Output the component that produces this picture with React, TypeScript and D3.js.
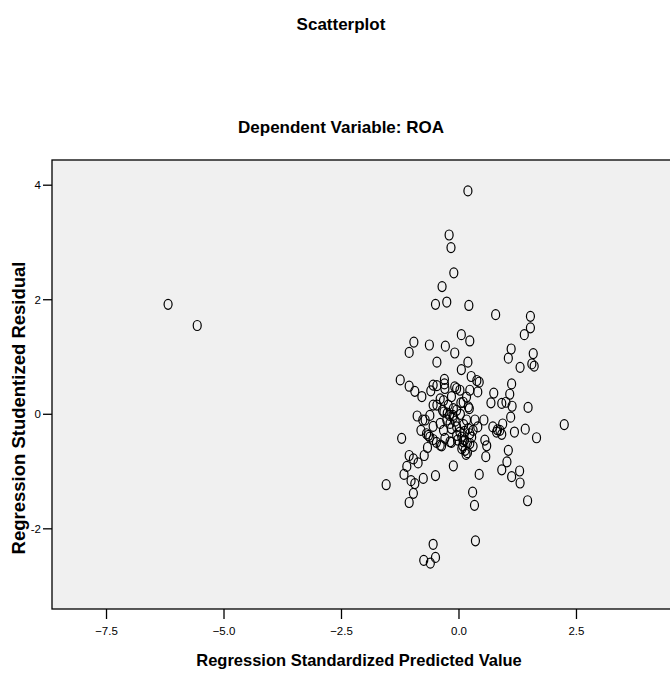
import { useRef, useEffect } from 'react';
import * as d3 from 'd3';

const WIDTH = 670;
const HEIGHT = 673;
const PLOT = { left: 52, right: 671, top: 160, bottom: 609 };

const TITLE = 'Scatterplot';
const SUBTITLE = 'Dependent Variable: ROA';
const X_LABEL = 'Regression Standardized Predicted Value';
const Y_LABEL = 'Regression Studentized Residual';

const X_DOMAIN = [-8.66, 4.49];
const Y_DOMAIN = [-3.40, 4.44];
const X_TICKS = [-7.5, -5.0, -2.5, 0.0, 2.5];
const Y_TICKS = [-2, 0, 2, 4];

// standardized predicted value / studentized residual pairs
const predicted = [
	-6.19, -5.57, 0.19, -0.21, -0.17, -0.11, -0.36, -0.50, -0.26, 0.21,
	0.78, 1.52, 1.52, 0.05, 0.23, -0.96, -0.63, -0.29, -1.06, -0.09,
	-0.47, 0.19, 0.05, 1.39, 1.11, 1.05, 1.58, 1.55, 1.60, 1.30,
	-1.25, -1.06, -0.94, -0.79, -0.31, -0.31, 0.26, 0.38, 0.43, 0.40,
	-0.47, -0.60, -0.09, 0.02, -0.40, -0.16, 0.16, 0.74, 0.68, 1.12,
	1.08, 1.00, 1.13, 1.47, -0.55, 0.04, 0.22, -0.32, -0.89, -0.77,
	-0.62, -0.13, 0.03, 0.53, 0.40, 0.72, 0.93, 0.82, 0.91, 1.18,
	1.41, 1.65, -0.81, -0.55, -0.40, -0.33, -1.22, -0.65, -0.55, -0.48,
	-0.37, -0.67, -0.74, -1.06, -0.97, -0.87, -1.11, -1.17, -1.02, -0.94,
	-0.76, -0.50, -0.97, -1.06, -1.55, -0.12, -0.16, 0.59, 0.57, 0.43,
	1.05, 1.02, 0.91, 1.12, 1.29, 1.30, 1.46, 0.29, 0.33, 0.35,
	-0.55, -0.50, -0.75, -0.61, 2.24, 1.10, -0.55, -0.30, -0.05, 0.23,
	-0.33, -0.47, -0.23, -0.12, -0.05, 0.09, 0.20, -0.72, -0.69, -0.62,
	-0.40, -0.30, -0.26, -0.19, -0.16, -0.05, 0.02, 0.06, 0.09, 0.06,
	0.13, 0.23, 0.27, 0.30, 0.34, 0.16, -0.12, -0.19, 0.55, 0.91,
	0.87, 0.80, -0.05, 0.18, 0.23, 0.30, 0.15, -0.35, -0.20, -0.25,
	-0.08, 0.10, 0.12, 0.20, -0.03, 0.08, 0.12, 0.18,
];
const residual = [
	1.92, 1.55, 3.90, 3.13, 2.91, 2.47, 2.23, 1.92, 1.96, 1.90,
	1.74, 1.71, 1.51, 1.39, 1.28, 1.26, 1.21, 1.19, 1.08, 1.07,
	0.91, 0.91, 0.78, 1.39, 1.14, 0.98, 1.06, 0.88, 0.84, 0.82,
	0.60, 0.49, 0.40, 0.31, 0.61, 0.53, 0.66, 0.59, 0.56, 0.39,
	0.50, 0.41, 0.48, 0.42, 0.27, 0.31, 0.30, 0.37, 0.20, 0.53,
	0.35, 0.21, 0.14, 0.12, 0.16, 0.20, 0.10, 0.04, -0.03, -0.10,
	-0.02, -0.02, 0.00, -0.10, -0.22, -0.22, -0.17, -0.27, -0.35, -0.31,
	-0.26, -0.41, -0.28, -0.21, -0.16, -0.28, -0.42, -0.37, -0.44, -0.49,
	-0.55, -0.58, -0.72, -0.72, -0.78, -0.85, -0.91, -1.05, -1.16, -1.21,
	-1.12, -1.07, -1.38, -1.54, -1.23, -0.90, -0.49, -0.55, -0.74, -1.05,
	-0.63, -0.83, -0.97, -1.09, -0.99, -1.20, -1.51, -1.36, -1.59, -2.21,
	-2.27, -2.50, -2.55, -2.60, -0.18, -0.05, 0.51, 0.45, 0.45, 0.42,
	0.24, 0.16, 0.16, 0.10, 0.07, 0.21, 0.13, -0.10, -0.34, -0.40,
	-0.54, -0.42, -0.10, -0.16, -0.25, -0.22, -0.31, -0.40, -0.48, -0.60,
	-0.63, -0.51, -0.40, -0.28, -0.10, -0.10, -0.05, -0.48, -0.45, 0.19,
	-0.28, -0.31, -0.37, -0.67, -0.34, -0.56, -0.70, 0.07, -0.02, 0.02,
	-0.12, -0.18, -0.30, -0.25, -0.45, -0.55, -0.45, -0.50,
];

const App = () => {
	const ref = useRef<SVGSVGElement>(null);

	useEffect(() => {
		const svg = d3.select(ref.current);
		svg.selectAll('*').remove();

		const xScale = d3.scaleLinear().domain(X_DOMAIN).range([PLOT.left, 670]);
		const yScale = d3.scaleLinear().domain(Y_DOMAIN).range([PLOT.bottom, PLOT.top]);

		svg.append('rect')
			.attr('width', WIDTH)
			.attr('height', HEIGHT)
			.attr('fill', '#ffffff');

		svg.append('rect')
			.attr('x', PLOT.left)
			.attr('y', PLOT.top)
			.attr('width', PLOT.right - PLOT.left)
			.attr('height', PLOT.bottom - PLOT.top)
			.attr('fill', '#f0f0f0')
			.attr('stroke', '#000')
			.attr('stroke-width', 1.3);

		const font = "'Liberation Sans', Arial, sans-serif";

		// titles
		svg.append('text')
			.attr('x', 341).attr('y', 30)
			.attr('text-anchor', 'middle')
			.attr('font-family', font).attr('font-weight', 'bold').attr('font-size', 17)
			.text(TITLE);
		svg.append('text')
			.attr('x', 341).attr('y', 133)
			.attr('text-anchor', 'middle')
			.attr('font-family', font).attr('font-weight', 'bold').attr('font-size', 17)
			.text(SUBTITLE);

		// x axis
		const xAxis = svg.append('g');
		X_TICKS.forEach(t => {
			xAxis.append('line')
				.attr('x1', xScale(t)).attr('x2', xScale(t))
				.attr('y1', PLOT.bottom).attr('y2', PLOT.bottom + 10)
				.attr('stroke', '#000').attr('stroke-width', 1.3);
			xAxis.append('text')
				.attr('x', xScale(t)).attr('y', 635)
				.attr('text-anchor', 'middle')
				.attr('font-family', font).attr('font-size', 11.5)
				.text(d3.format('.1f')(t));
		});
		svg.append('text')
			.attr('x', 359).attr('y', 666)
			.attr('text-anchor', 'middle')
			.attr('font-family', font).attr('font-weight', 'bold').attr('font-size', 16.5)
			.text(X_LABEL);

		// y axis
		const yAxis = svg.append('g');
		Y_TICKS.forEach(t => {
			yAxis.append('line')
				.attr('x1', PLOT.left - 9).attr('x2', PLOT.left)
				.attr('y1', yScale(t)).attr('y2', yScale(t))
				.attr('stroke', '#000').attr('stroke-width', 1.3);
			yAxis.append('text')
				.attr('x', PLOT.left - 11).attr('y', yScale(t) + 4)
				.attr('text-anchor', 'end')
				.attr('font-family', font).attr('font-size', 11.5)
				.text(String(t));
		});
		svg.append('text')
			.attr('transform', `translate(25, 408) rotate(-90)`)
			.attr('text-anchor', 'middle')
			.attr('font-family', font).attr('font-weight', 'bold').attr('font-size', 18.5)
			.text(Y_LABEL);

		// points
		const points = predicted.map((x, i) => [x, residual[i]]);
		svg.append('g')
			.selectAll('ellipse')
			.data(points)
			.join('ellipse')
			.attr('cx', d => xScale(d[0]))
			.attr('cy', d => yScale(d[1]))
			.attr('rx', 4)
			.attr('ry', 5)
			.attr('fill', 'none')
			.attr('stroke', '#000')
			.attr('stroke-width', 1.2);
	});

	return (
		<svg
			ref={ref}
			width={WIDTH}
			height={HEIGHT}
			style={{ position: 'absolute', left: 0, top: 0 }}
		/>
	);
};

export default App;
